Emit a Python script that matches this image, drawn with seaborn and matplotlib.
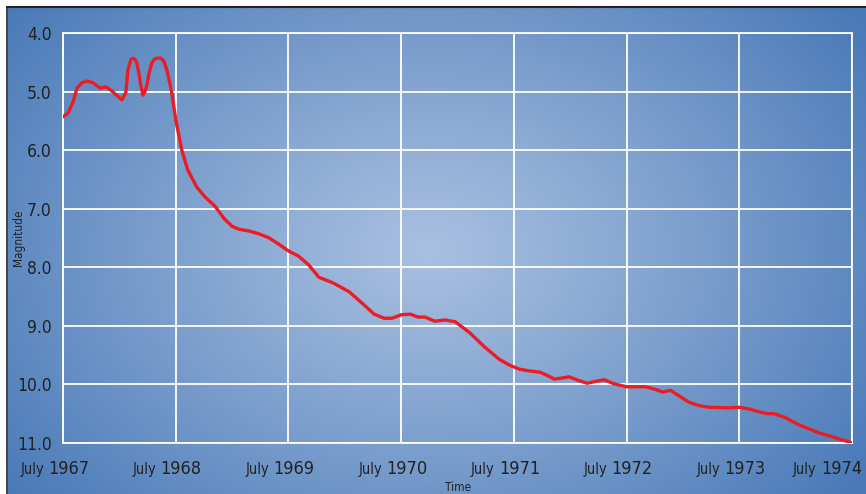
import numpy as np
import pandas as pd
import matplotlib
matplotlib.use("Agg")
import matplotlib.pyplot as plt
import matplotlib.transforms as mtransforms
import seaborn as sns

# Brightness of the object over time (decimal years, magnitude)
years = [1967.500, 1967.544, 1967.589, 1967.624, 1967.668, 1967.713, 1967.766,
         1967.828, 1967.881, 1967.934, 1967.980, 1968.023, 1968.058, 1968.076,
         1968.102, 1968.120, 1968.138, 1968.155, 1968.173, 1968.191, 1968.209,
         1968.227, 1968.244, 1968.262, 1968.288, 1968.315, 1968.341, 1968.368,
         1968.394, 1968.421, 1968.447, 1968.465, 1968.501, 1968.554, 1968.607,
         1968.687, 1968.760, 1968.850, 1968.930, 1969.000, 1969.060, 1969.150,
         1969.240, 1969.330, 1969.410, 1969.500, 1969.590, 1969.680, 1969.770,
         1969.900, 1970.040, 1970.170, 1970.260, 1970.350, 1970.420, 1970.500,
         1970.580, 1970.650, 1970.710, 1970.800, 1970.890, 1970.980, 1971.110,
         1971.240, 1971.370, 1971.460, 1971.550, 1971.640, 1971.730, 1971.800,
         1971.860, 1971.930, 1971.990, 1972.070, 1972.150, 1972.220, 1972.300,
         1972.390, 1972.500, 1972.600, 1972.670, 1972.750, 1972.820, 1972.890,
         1972.970, 1973.050, 1973.140, 1973.230, 1973.410, 1973.500, 1973.590,
         1973.680, 1973.750, 1973.810, 1973.900, 1974.030, 1974.210, 1974.320,
         1974.420, 1974.500]
magnitude = [5.43, 5.37, 5.18, 4.94, 4.85, 4.82, 4.85, 4.94, 4.92, 4.99, 5.07,
             5.14, 5.01, 4.63, 4.45, 4.43, 4.45, 4.51, 4.68, 4.90, 5.06, 5.00,
             4.89, 4.70, 4.51, 4.44, 4.43, 4.43, 4.48, 4.63, 4.85, 5.02, 5.49,
             6.00, 6.34, 6.63, 6.80, 6.96, 7.17, 7.30, 7.35, 7.38, 7.43, 7.50,
             7.60, 7.72, 7.81, 7.96, 8.17, 8.27, 8.42, 8.64, 8.80, 8.87, 8.87,
             8.81, 8.80, 8.85, 8.85, 8.92, 8.90, 8.93, 9.12, 9.36, 9.57, 9.67,
             9.74, 9.77, 9.79, 9.85, 9.91, 9.89, 9.87, 9.93, 9.98, 9.95, 9.92,
             9.99, 10.04, 10.04, 10.04, 10.08, 10.13, 10.10, 10.20, 10.30,
             10.36, 10.39, 10.40, 10.39, 10.42, 10.47, 10.50, 10.50, 10.56,
             10.69, 10.83, 10.89, 10.95, 11.00]

tick_years = [1967.5, 1968.5, 1969.5, 1970.5, 1971.5, 1972.5, 1973.5, 1974.5]
tick_labels = ["1967", "1968", "1969", "1970", "1971", "1972", "1973", "1974"]
mag_ticks = [4.0, 5.0, 6.0, 7.0, 8.0, 9.0, 10.0, 11.0]

df = pd.DataFrame({"year": years, "magnitude": magnitude})

sns.set_theme(style="white")
plt.rcParams["font.family"] = ["DejaVu Sans"]
plt.rcParams["font.stretch"] = "condensed"
TXT = "#222222"

W, H = 866, 494
fig = plt.figure(figsize=(W / 100, H / 100), dpi=100)
fig.patch.set_facecolor("white")

# Radial blue gradient backdrop with a thin dark frame on top and left
bg = fig.add_axes([8 / W, 0, 1 - 8 / W, 1 - 8 / H])
bg.set_axis_off()
gx, gy = np.meshgrid(np.linspace(0, 1, 400), np.linspace(0, 1, 240))
d = np.sqrt(((gx - 0.49) / 0.62) ** 2 + ((gy - 0.50) / 0.80) ** 2)
t = np.clip(d, 0, 1) ** 1.1
inner = np.array([0.66, 0.75, 0.88])
outer = np.array([0.29, 0.48, 0.72])
img = inner[None, None, :] * (1 - t[..., None]) + outer[None, None, :] * t[..., None]
bg.imshow(img, aspect="auto", extent=[0, 1, 0, 1], origin="upper")
bg.set_xlim(0, 1)
bg.set_ylim(0, 1)
fig.add_artist(plt.Line2D([7.5 / W, 7.5 / W], [0, 1 - 7 / H], color="#222222", lw=1.2))
fig.add_artist(plt.Line2D([7.5 / W, 1], [1 - 7 / H, 1 - 7 / H], color="#222222", lw=1.5))

ax = fig.add_axes([63 / W, 1 - 443 / H, (852 - 63) / W, (443 - 33) / H])
ax.patch.set_alpha(0)

sns.lineplot(data=df, x="year", y="magnitude", ax=ax, color="#ec1c24",
             lw=2.4, sort=False, zorder=5, solid_joinstyle="round",
             solid_capstyle="round")

ax.set_xlim(1967.5, 1974.5)
ax.set_ylim(11.0, 4.0)
ax.set_xticks(tick_years)
ax.set_yticks(mag_ticks)
ax.set_xticklabels([])
ax.set_yticklabels([f"{v:.1f}" for v in mag_ticks], fontsize=12.5, color=TXT)
ax.tick_params(axis="y", length=0, pad=8)
ax.tick_params(axis="x", length=0)
ax.grid(True, color="white", lw=1.3)
for s in ax.spines.values():
    s.set_color("white")
    s.set_linewidth(1.3)
ax.set_xlabel("")
ax.set_ylabel("")

# Two-size date labels under each vertical grid line
trans = mtransforms.blended_transform_factory(ax.transData, fig.transFigure)
for i, (yr, lab) in enumerate(zip(tick_years, tick_labels)):
    shift = -15 if i < len(tick_years) - 1 else -31
    off = mtransforms.ScaledTranslation(shift / 100, 0, fig.dpi_scale_trans)
    ax.text(yr, 1 - 474 / H, "July ", transform=trans + off, ha="right",
            va="baseline", fontsize=10.5, color=TXT, clip_on=False)
    ax.text(yr, 1 - 474 / H, lab, transform=trans + off, ha="left",
            va="baseline", fontsize=13, color=TXT, clip_on=False)

fig.text(458 / W, 1 - 487 / H, "Time", ha="center", va="center",
         fontsize=8.5, color=TXT)
fig.text(19 / W, 1 - 238 / H, "Magnitude", ha="center", va="center",
         rotation=90, fontsize=8.5, color=TXT)

fig.savefig("out.png", dpi=100)
